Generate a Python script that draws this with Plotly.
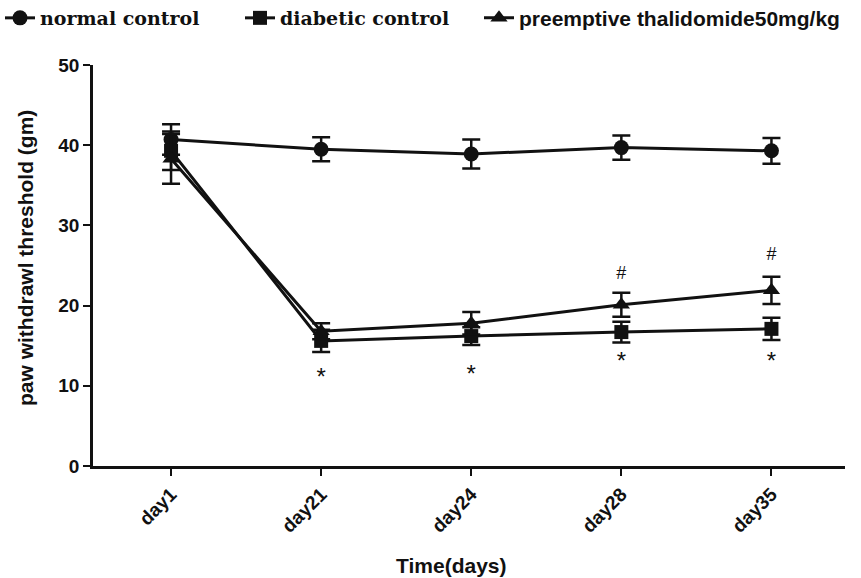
import plotly.graph_objects as go

days = ["day1", "day21", "day24", "day28", "day35"]

normal_mean = [40.7, 39.5, 38.9, 39.7, 39.3]
normal_err = [1.9, 1.5, 1.8, 1.5, 1.6]

diabetic_mean = [39.3, 15.6, 16.2, 16.7, 17.1]
diabetic_err = [2.4, 1.4, 1.1, 1.3, 1.4]

thal_mean = [38.3, 16.8, 17.8, 20.1, 21.9]
thal_err = [3.1, 1.0, 1.4, 1.5, 1.7]

star_days = ["day21", "day24", "day28", "day35"]
star_y = [10.9, 11.2, 12.8, 12.9]
hash_days = ["day28", "day35"]
hash_y = [23.9, 26.3]

sans = "Liberation Sans, Arial, sans-serif"
serif = "DejaVu Serif, Liberation Serif, serif"

fig = go.Figure()

def add_series(name, y, err, symbol, size, legend):
    fig.add_trace(go.Scatter(
        x=days, y=y, name=name, mode="lines+markers", legend=legend,
        line=dict(color="#111111", width=3),
        marker=dict(symbol=symbol, size=size, color="#111111"),
        error_y=dict(type="data", array=err, visible=True,
                     color="#111111", thickness=2.5, width=9),
    ))

add_series("normal control", normal_mean, normal_err, "circle", 15, "legend")
add_series("diabetic control", diabetic_mean, diabetic_err, "square", 14, "legend2")
add_series("preemptive thalidomide50mg/kg", thal_mean, thal_err, "triangle-up", 15, "legend3")

fig.add_trace(go.Scatter(
    x=star_days, y=star_y, mode="text", text=["*"] * len(star_days),
    textfont=dict(family=sans, size=24, color="#111111"),
    showlegend=False, hoverinfo="skip"))
fig.add_trace(go.Scatter(
    x=hash_days, y=hash_y, mode="text", text=["#"] * len(hash_days),
    textfont=dict(family=sans, size=18, color="#111111"),
    showlegend=False, hoverinfo="skip"))

def legend_box(px_x, family, size):
    return dict(orientation="h", xref="container", yref="container",
                x=px_x / 861, y=1 - 18 / 578, xanchor="left", yanchor="middle",
                font=dict(family=family, size=size, color="#111111", weight="bold"),
                itemwidth=30, bgcolor="rgba(0,0,0,0)")

fig.update_layout(
    width=861, height=578,
    margin=dict(l=93, r=16, t=65, b=112),
    paper_bgcolor="white", plot_bgcolor="white",
    font=dict(family=sans, color="#111111"),
    showlegend=True,
    legend=legend_box(0, serif, 19),
    legend2=legend_box(240, serif, 19),
    legend3=legend_box(479, sans, 21),
    xaxis=dict(
        type="category", categoryorder="array", categoryarray=days,
        range=[-0.52, 4.49], automargin=False,
        showline=True, linecolor="#111111", linewidth=2.5,
        ticks="outside", ticklen=7, tickwidth=2, tickcolor="#111111",
        tickangle=-45, showgrid=False, zeroline=False,
        tickfont=dict(family=sans, size=19, color="#111111", weight="bold"),
    ),
    yaxis=dict(
        range=[0, 50], tickvals=[0, 10, 20, 30, 40, 50], automargin=False,
        showline=True, linecolor="#111111", linewidth=2.5,
        ticks="outside", ticklen=7, tickwidth=2, tickcolor="#111111",
        showgrid=False, zeroline=False,
        tickfont=dict(family=sans, size=19, color="#111111", weight="bold"),
    ),
    annotations=[
        dict(text="Time(days)", xref="paper", yref="paper",
             x=(451 - 93) / 752, y=(466 - 565) / 401,
             xanchor="center", yanchor="middle", showarrow=False,
             font=dict(family=sans, size=21, color="#111111", weight="bold")),
        dict(text="paw withdrawl threshold (gm)", xref="paper", yref="paper",
             x=(25 - 93) / 752, y=(466 - 258) / 401, textangle=-90,
             xanchor="center", yanchor="middle", showarrow=False,
             font=dict(family=sans, size=21, color="#111111", weight="bold")),
    ],
)

fig.write_html("out.html")
